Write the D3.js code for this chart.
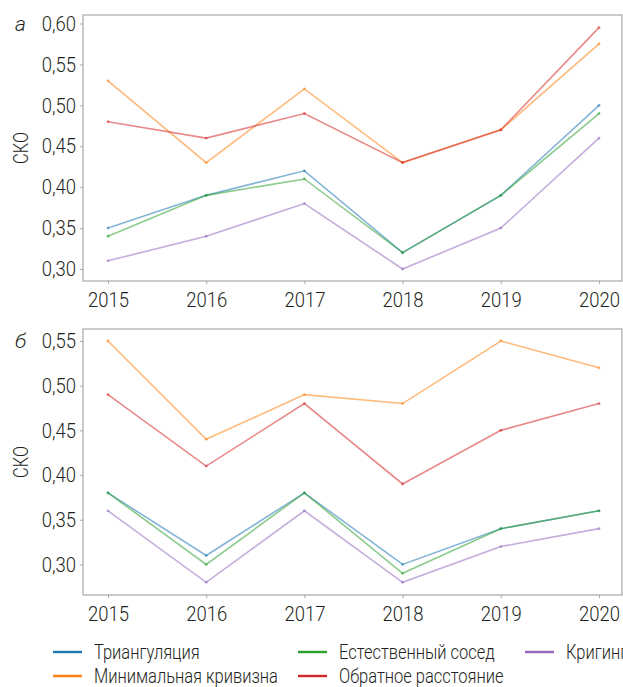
<!DOCTYPE html>
<html>
<head>
<meta charset="utf-8">
<script src="https://cdn.jsdelivr.net/npm/d3@7"></script>
<style>
  html, body { margin: 0; padding: 0; background: #fff; overflow: hidden; }
  svg { display: block; }
  text { font-family: Roboto, "Noto Sans", "Liberation Sans", sans-serif; font-weight: 300; fill: #231f20; }
</style>
</head>
<body>
<svg id="chart" width="623" height="687"></svg>
<script>
// Years on the horizontal axis
const years = [2015, 2016, 2017, 2018, 2019, 2020];

// Interpolation methods (legend order)
const methods = ["Триангуляция", "Естественный сосед", "Кригинг", "Минимальная кривизна", "Обратное расстояние"];
const methodColors = ["#1f77b4", "#2ca02c", "#9467bd", "#ff7f0e", "#d62728"];

// Panel а — RMSE by year
const a_triangulation = [0.35, 0.39, 0.42, 0.32, 0.39, 0.50];
const a_naturalNeighbor = [0.34, 0.39, 0.41, 0.32, 0.39, 0.49];
const a_kriging = [0.31, 0.34, 0.38, 0.30, 0.35, 0.46];
const a_minCurvature = [0.53, 0.43, 0.52, 0.43, 0.47, 0.575];
const a_inverseDistance = [0.48, 0.46, 0.49, 0.43, 0.47, 0.595];

// Panel б — RMSE by year
const b_triangulation = [0.38, 0.31, 0.38, 0.30, 0.34, 0.36];
const b_naturalNeighbor = [0.38, 0.30, 0.38, 0.29, 0.34, 0.36];
const b_kriging = [0.36, 0.28, 0.36, 0.28, 0.32, 0.34];
const b_minCurvature = [0.55, 0.44, 0.49, 0.48, 0.55, 0.52];
const b_inverseDistance = [0.49, 0.41, 0.48, 0.39, 0.45, 0.48];

// Tick labels for each panel
const a_yTicks = [0.30, 0.35, 0.40, 0.45, 0.50, 0.55, 0.60];
const b_yTicks = [0.30, 0.35, 0.40, 0.45, 0.50, 0.55];

const svg = d3.select("#chart");
const fmt = v => d3.format(".2f")(v).replace(".", ",");

// Condensed lettering: horizontal squeeze so a sample string spans a given width
function squeeze(sample, size, width) {
  const t = svg.append("text").attr("font-size", size).text(sample);
  const w = t.node().getComputedTextLength();
  t.remove();
  return width / w;
}
const tickSize = 21, legendSize = 20;
const sTick = squeeze("2015", tickSize, 41);
const sLegend = squeeze("Минимальная кривизна", legendSize, 184);
const sTitle = squeeze("СКО", tickSize, 32);

const left = 83, right = 622;
const x = d3.scaleLinear().domain([2015, 2020]).range([108, 599]);

function panel(cfg) {
  const y = d3.scaleLinear().domain(cfg.yDomain).range(cfg.yRange);
  const g = svg.append("g");

  // frame
  g.append("rect")
    .attr("x", left).attr("y", cfg.top)
    .attr("width", right - left).attr("height", cfg.bottom - cfg.top)
    .attr("fill", "#fff").attr("stroke", "#a7a9ac").attr("stroke-width", 1.2);

  // x axis
  const xa = g.append("g").attr("transform", `translate(0,${cfg.bottom})`)
    .call(d3.axisBottom(x).tickValues(years).tickFormat(d3.format("d")).tickSize(3).tickPadding(8));
  xa.select(".domain").remove();
  xa.selectAll("line").attr("stroke", "#a7a9ac");
  xa.selectAll("text")
    .attr("font-size", tickSize).attr("font-family", null)
    .attr("transform", `scale(${sTick},1)`)
    .style("fill", "#231f20");

  // y axis
  const ya = g.append("g").attr("transform", `translate(${left},0)`)
    .call(d3.axisLeft(y).tickValues(cfg.yTicks).tickFormat(fmt).tickSize(3).tickPadding(4));
  ya.select(".domain").remove();
  ya.selectAll("line").attr("stroke", "#a7a9ac");
  ya.selectAll("text")
    .attr("font-size", tickSize).attr("font-family", null)
    .attr("x", -7 / sTick)
    .attr("transform", `scale(${sTick},1)`)
    .style("fill", "#231f20");

  // axis title
  const yMid = (cfg.top + cfg.bottom) / 2;
  g.append("text")
    .attr("transform", `translate(28,${yMid}) rotate(-90) scale(${sTitle},1)`)
    .attr("text-anchor", "middle")
    .attr("font-size", tickSize)
    .text("СКО");

  // panel letter
  g.append("text")
    .attr("x", 15).attr("y", y(cfg.yTicks[cfg.yTicks.length - 1]) + 7)
    .attr("font-size", 21).attr("font-style", "italic")
    .text(cfg.letter);

  const line = d3.line().x((d, i) => x(years[i])).y(d => y(d));
  // draw order: back to front
  const order = [3, 4, 0, 1, 2];
  order.forEach(k => {
    const vals = cfg.series[k];
    g.append("path")
      .datum(vals)
      .attr("d", line)
      .attr("fill", "none")
      .attr("stroke", methodColors[k])
      .attr("stroke-opacity", 0.55)
      .attr("stroke-width", 1.6);
    g.selectAll(null)
      .data(vals)
      .enter().append("circle")
      .attr("cx", (d, i) => x(years[i]))
      .attr("cy", d => y(d))
      .attr("r", 1.4)
      .attr("fill", methodColors[k])
      .attr("fill-opacity", 0.6);
  });
}

panel({
  letter: "а",
  top: 15, bottom: 281,
  yDomain: [0.30, 0.60], yRange: [269, 23.5],
  yTicks: a_yTicks,
  series: [a_triangulation, a_naturalNeighbor, a_kriging, a_minCurvature, a_inverseDistance]
});

panel({
  letter: "б",
  top: 329, bottom: 595,
  yDomain: [0.30, 0.55], yRange: [564.4, 341],
  yTicks: b_yTicks,
  series: [b_triangulation, b_naturalNeighbor, b_kriging, b_minCurvature, b_inverseDistance]
});

// legend
const legendPos = [[53, 652], [298, 652], [525, 652], [53, 676], [298, 676]];
const lg = svg.append("g");
methods.forEach((m, k) => {
  const [lx, ly] = legendPos[k];
  lg.append("line")
    .attr("x1", lx).attr("x2", lx + 29)
    .attr("y1", ly).attr("y2", ly)
    .attr("stroke", methodColors[k]).attr("stroke-width", 2.4);
  lg.append("text")
    .attr("transform", `translate(${lx + 41},${ly + 7}) scale(${sLegend},1)`)
    .attr("font-size", legendSize)
    .text(m);
});
</script>
</body>
</html>
